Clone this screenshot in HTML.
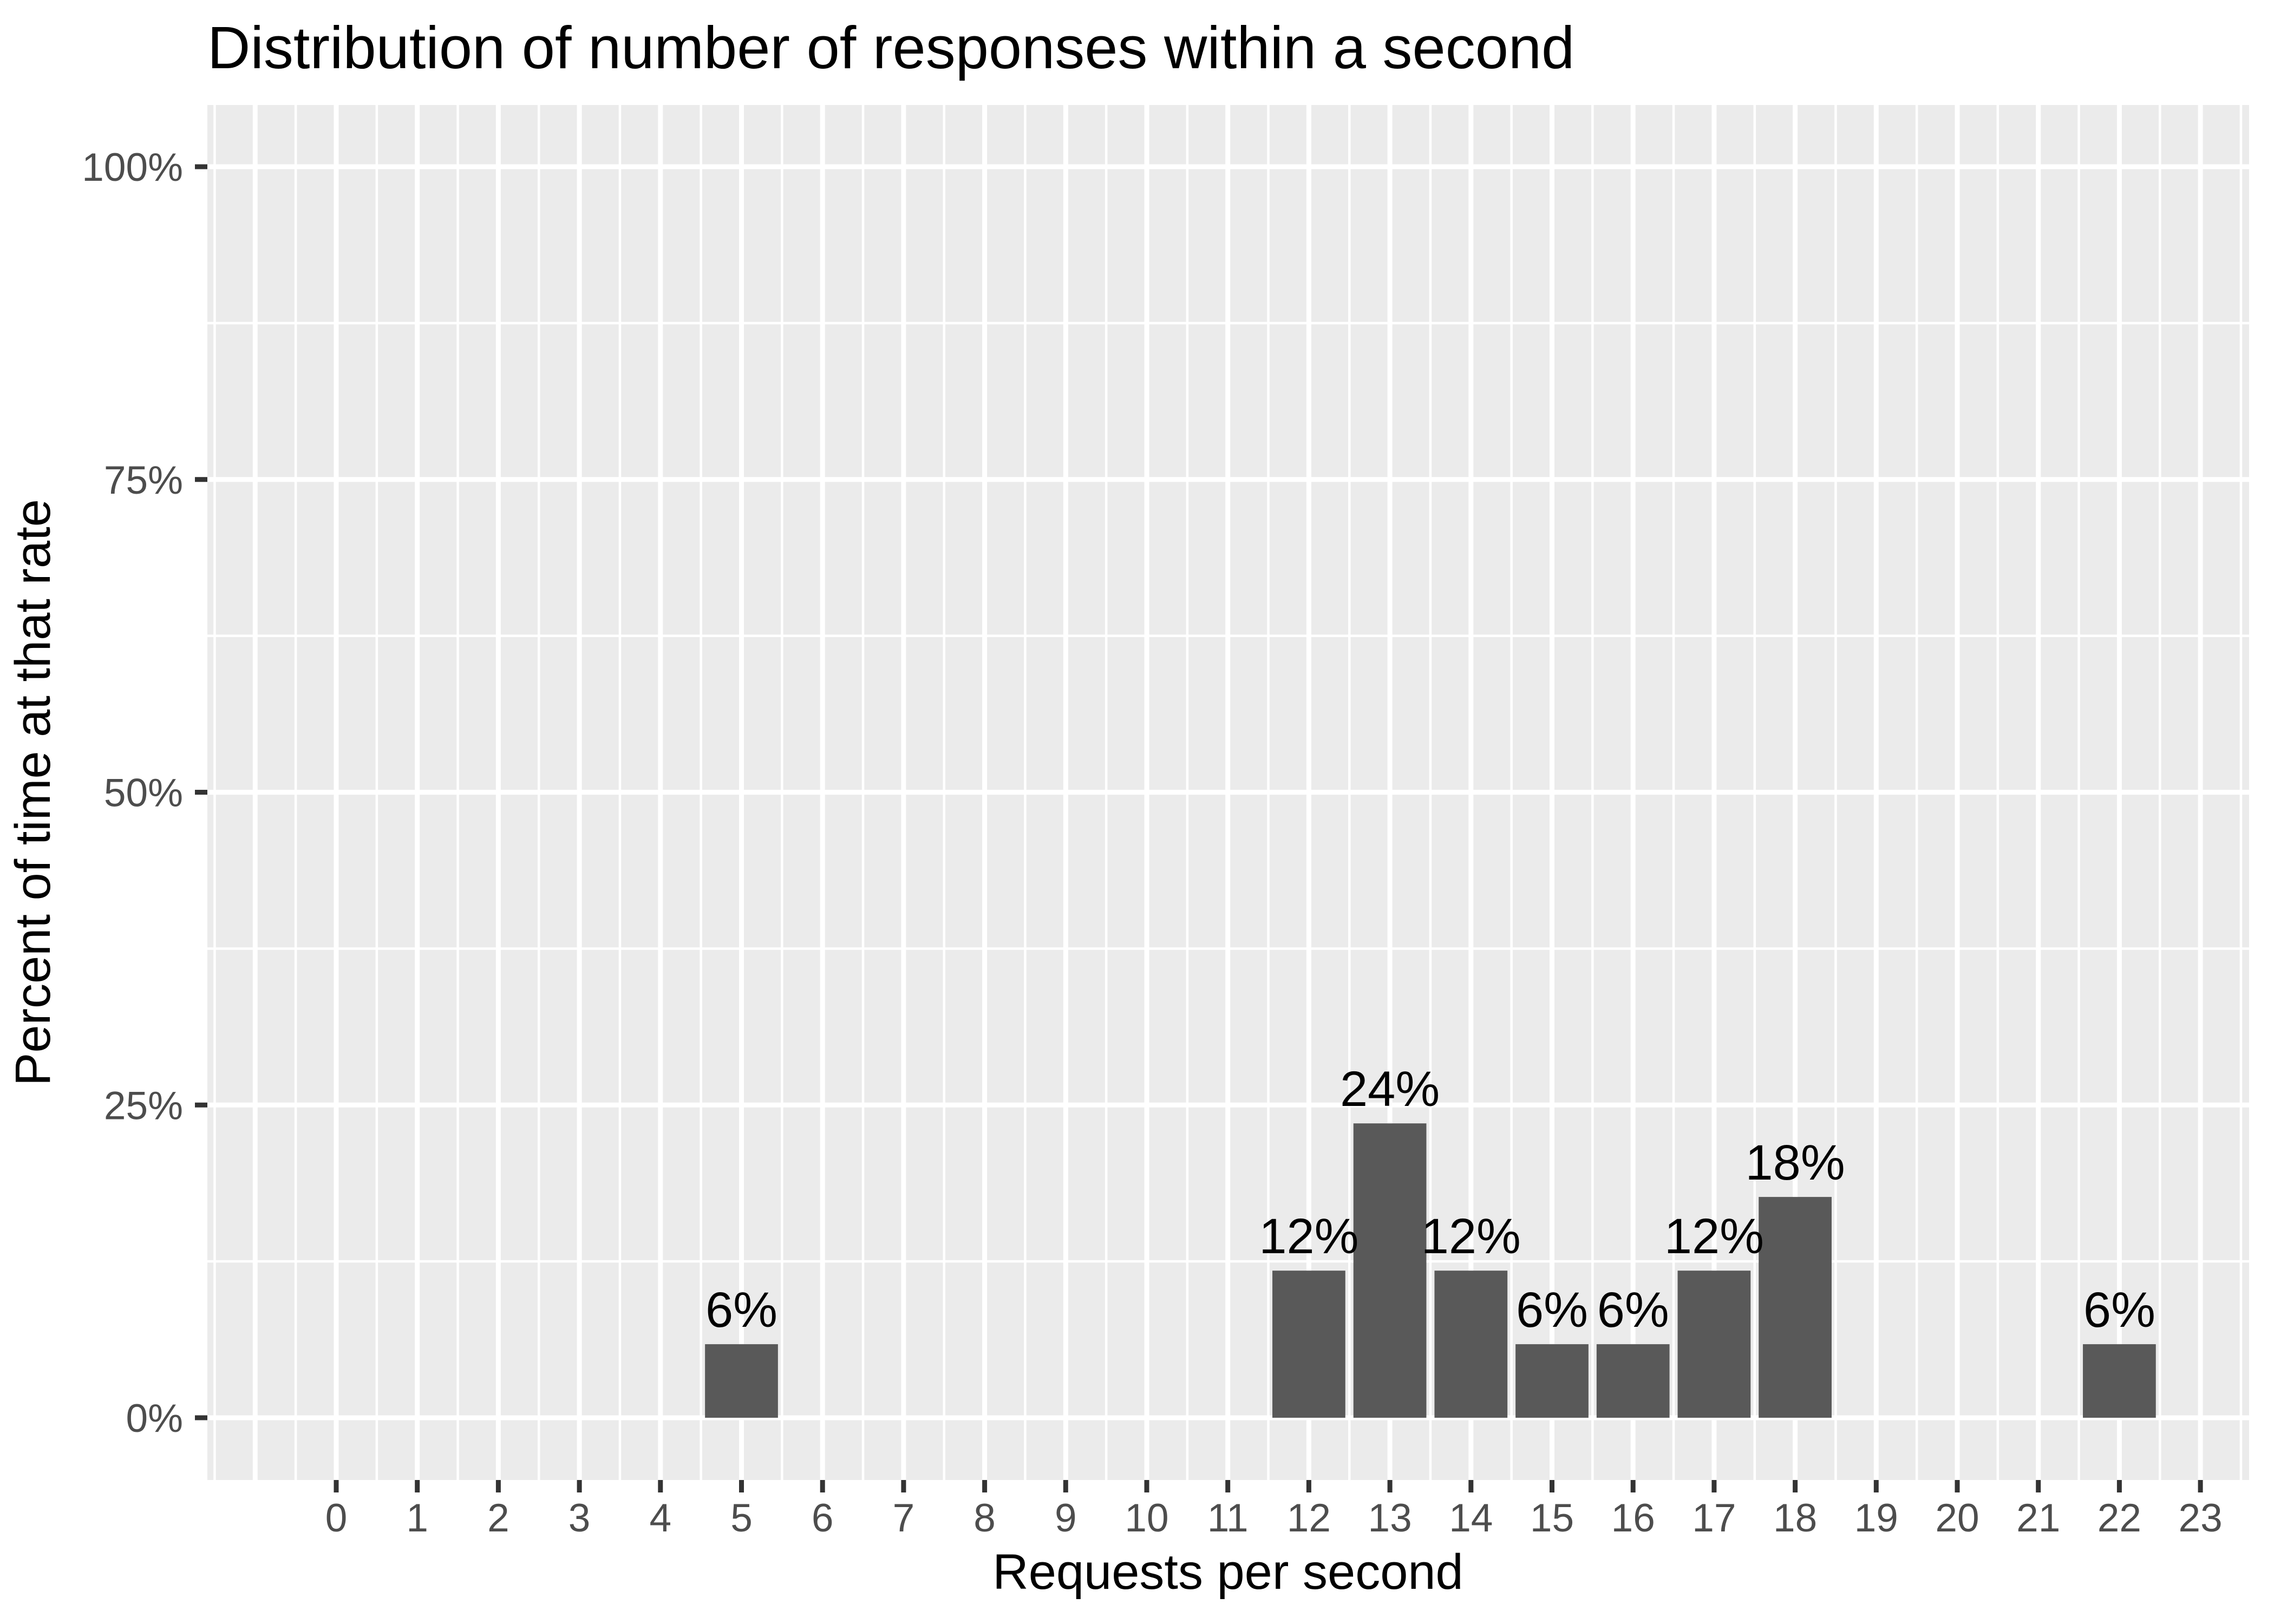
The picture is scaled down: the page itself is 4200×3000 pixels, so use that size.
<!DOCTYPE html>
<html><head><meta charset="utf-8"><style>html,body{margin:0;padding:0;background:#fff}svg{display:block}</style></head>
<body>
<svg id="chart" width="4200" height="3000" viewBox="0 0 4200 3000" xmlns="http://www.w3.org/2000/svg" font-family="Liberation Sans, Arial, sans-serif">
<rect x="0" y="0" width="4200" height="3000" fill="#fff"/>
<rect x="383" y="194" width="3771" height="2540" fill="#EBEBEB"/>
<g id="grid"></g>
<g id="bars"></g>
<g id="labels"></g>
<g id="axes"></g>
<text x="383" y="126" font-size="110" fill="#000">Distribution of number of responses within a second</text>
<text x="2268" y="2935" font-size="92" fill="#000" text-anchor="middle">Requests per second</text>
<text transform="translate(92,1464) rotate(-90)" font-size="92" fill="#000" text-anchor="middle">Percent of time at that rate</text>
</svg>
<script>
const categories = [5, 12, 13, 14, 15, 16, 17, 18, 22];
const values = [5.88, 11.76, 23.53, 11.76, 5.88, 5.88, 11.76, 17.65, 5.88];
const valueLabels = ["6%", "12%", "24%", "12%", "6%", "6%", "12%", "18%", "6%"];
const xTicks = [0,1,2,3,4,5,6,7,8,9,10,11,12,13,14,15,16,17,18,19,20,21,22,23];
const yTicks = [0, 25, 50, 75, 100];
const yTickLabels = ["0%", "25%", "50%", "75%", "100%"];

const NS = "http://www.w3.org/2000/svg";
const X0 = 621, XS = 149.7, Y0 = 2619, YS = (2619 - 308) / 100;
const PL = 383, PR = 4154, PT = 194, PB = 2734;
function xs(v){ return X0 + v * XS; }
function ys(v){ return Y0 - v * YS; }
function mk(tag, attrs, parent){
  const e = document.createElementNS(NS, tag);
  for (const k in attrs) e.setAttribute(k, attrs[k]);
  parent.appendChild(e);
  return e;
}
const grid = document.getElementById('grid');
const bars = document.getElementById('bars');
const labels = document.getElementById('labels');
const axes = document.getElementById('axes');

// minor horizontal
for (let i = 0; i < yTicks.length - 1; i++) {
  const v = (yTicks[i] + yTicks[i+1]) / 2;
  const l = mk('line', {x1: PL, x2: PR, y1: ys(v), y2: ys(v), stroke: '#fff', 'stroke-width': 4.5}, grid);
  
  
}
// vertical minor/major
for (let v = -1.5; v <= 23.5; v += 0.5) {
  const x = xs(v);
  if (x < PL || x > PR) continue;
  const major = Number.isInteger(v);
  const l = mk('line', {x1: x, x2: x, y1: PT, y2: PB, stroke: '#fff', 'stroke-width': major ? 9 : 4.5}, grid);
  
  
}
yTicks.forEach((v, i) => {
  const y = ys(v);
  const l = mk('line', {x1: PL, x2: PR, y1: y, y2: y, stroke: '#fff', 'stroke-width': 9}, grid);
  
  
  const t = mk('line', {x1: 360, x2: PL, y1: y, y2: y, stroke: '#333', 'stroke-width': 9}, axes);
  
  
  const tx = mk('text', {x: 338, y: y + 26, 'font-size': 73, fill: '#4D4D4D', 'text-anchor': 'end'}, axes);
  tx.textContent = yTickLabels[i];
  
  
});
xTicks.forEach(v => {
  const x = xs(v);
  const t = mk('line', {x1: x, x2: x, y1: PB, y2: 2757, stroke: '#333', 'stroke-width': 9}, axes);
  
  
  const tx = mk('text', {x: x, y: 2829, 'font-size': 73, fill: '#4D4D4D', 'text-anchor': 'middle'}, axes);
  tx.textContent = String(v);
  
  
});
categories.forEach((c, i) => {
  const x = xs(c - 0.45), w = 0.9 * XS;
  const top = ys(values[i]);
  const r = mk('rect', {x: x, y: top, width: w, height: Y0 - top, fill: '#595959'}, bars);
  
  
  const t = mk('text', {x: xs(c), y: top - 32, 'font-size': 92, fill: '#000', 'text-anchor': 'middle'}, labels);
  t.textContent = valueLabels[i];
  
  
});
</script>
</body></html>
